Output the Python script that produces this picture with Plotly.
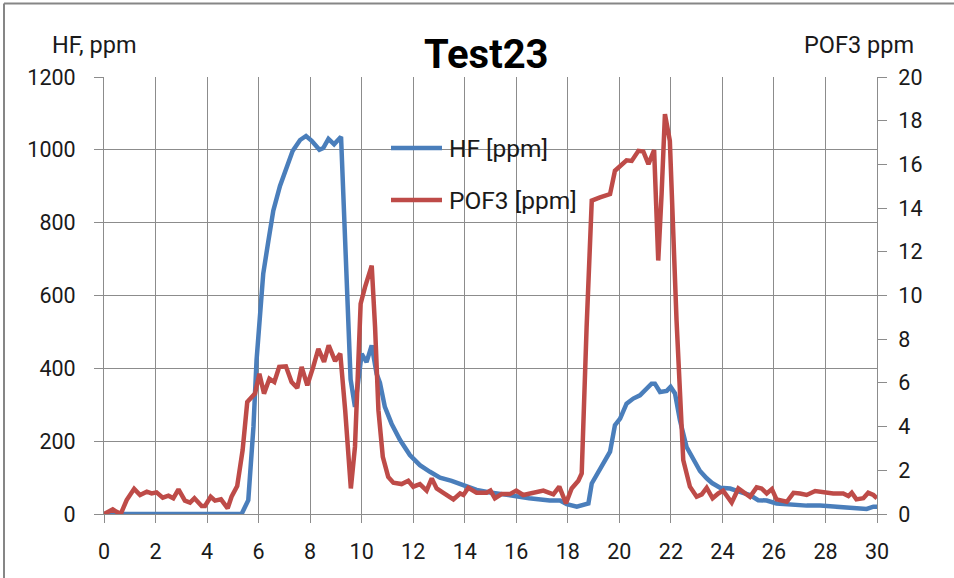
import plotly.graph_objects as go

# ---- data ----
hf_time = [0, 1, 2, 3, 4, 5, 5.34, 5.6, 5.8, 5.92, 6.05, 6.18, 6.38, 6.57, 6.83, 7.09, 7.32,
           7.61, 7.84, 8.06, 8.36, 8.51, 8.71, 8.93, 9.2, 9.57, 9.74, 10.0, 10.19, 10.39,
           10.58, 10.71, 10.9, 11.16, 11.49, 11.87, 12.26, 12.65, 13.04, 13.49, 13.95,
           14.46, 14.98, 15.5, 16.0, 16.5, 17.0, 17.3, 17.7, 17.96, 18.35, 18.8, 18.93,
           19.25, 19.64, 19.83, 20.03, 20.28, 20.54, 20.8, 21.0, 21.25, 21.38, 21.58,
           21.84, 21.99, 22.16, 22.35, 22.61, 22.87, 23.13, 23.39, 23.6, 23.91, 24.3,
           24.68, 25.07, 25.39, 25.72, 26.1, 26.5, 26.9, 27.27, 27.79, 28.3, 28.82,
           29.2, 29.6, 29.86, 30.0]
hf_ppm = [0, 0, 0, 0, 0, 0, 0, 38, 239, 422, 550, 660, 750, 833, 901, 952, 997,
          1027, 1038, 1025, 1000, 1005, 1030, 1015, 1036, 370, 294, 440, 417, 463,
          385, 360, 294, 248, 203, 162, 134, 116, 100, 91, 79,
          66, 59, 55, 49, 43, 38, 37, 37, 27, 20, 29, 84,
          121, 171, 244, 262, 303, 317, 326, 340, 358, 358, 335,
          338, 349, 331, 258, 184, 148, 118, 98, 85, 72, 70,
          61, 52, 38, 37, 29, 27, 24, 23, 23, 20, 16,
          16, 14, 20, 20]

pof3_time = [0, 0.34, 0.49, 0.65, 0.88, 1.17, 1.4, 1.66, 1.85, 2.04, 2.28, 2.5, 2.69, 2.89,
             3.14, 3.34, 3.51, 3.79, 3.92, 4.14, 4.31, 4.54, 4.8, 4.95, 5.17, 5.38, 5.56,
             5.86, 6.03, 6.21, 6.42, 6.61, 6.8, 7.06, 7.28, 7.5, 7.67, 7.89, 8.12, 8.32,
             8.54, 8.72, 8.97, 9.17, 9.36, 9.58, 9.74, 9.96, 10.13, 10.39, 10.52, 10.65,
             10.82, 11.03, 11.23, 11.55, 11.81, 12.0, 12.26, 12.52, 12.72, 12.91, 13.17,
             13.56, 13.82, 13.95, 14.14, 14.46, 14.85, 15.0, 15.17, 15.43, 15.75, 16.0,
             16.27, 16.6, 17.05, 17.44, 17.67, 17.93, 18.15, 18.41, 18.54, 18.73, 18.93,
             19.25, 19.64, 19.83, 20.0, 20.28, 20.48, 20.74, 20.93, 21.13, 21.35, 21.51,
             21.64, 21.77, 21.96, 22.22, 22.48, 22.74, 23.0, 23.2, 23.39, 23.62, 23.84,
             24.03, 24.36, 24.62, 25.07, 25.33, 25.52, 25.72, 25.92, 26.1, 26.5, 26.76,
             27.01, 27.27, 27.6, 27.92, 28.3, 28.69, 28.89, 29.02, 29.2, 29.47, 29.66,
             29.86, 30.0]
pof3_ppm = [0, 0.21, 0.1, 0.0, 0.64, 1.15, 0.87, 1.02, 0.94, 0.99, 0.75, 0.84, 0.72, 1.13,
            0.61, 0.52, 0.72, 0.37, 0.37, 0.79, 0.61, 0.67, 0.26, 0.79, 1.28, 2.92, 5.13,
            5.51, 6.42, 5.51, 6.19, 6.04, 6.73, 6.76, 6.04, 5.77, 6.73, 5.89, 6.73, 7.56,
            6.96, 7.72, 7.0, 7.34, 4.75, 1.17, 3.07, 9.62, 10.38, 11.37, 8.55, 4.75,
            2.62, 1.7, 1.43, 1.37, 1.52, 1.25, 1.37, 1.07, 1.63, 1.17, 0.97,
            0.67, 0.94, 0.87, 1.2, 0.97, 0.97, 1.07, 0.72, 0.91, 0.91, 1.07,
            0.87, 0.94, 1.07, 0.9, 1.25, 0.49, 1.17, 1.52, 1.86, 8.55, 14.34,
            14.49, 14.64, 15.71, 15.89, 16.19, 16.16, 16.62, 16.59, 16.01, 16.65, 11.6,
            14.64, 18.3, 17.08, 8.86, 2.47, 1.25, 0.79, 0.9, 1.2, 0.72, 0.94,
            1.07, 0.52, 1.17, 0.79, 1.22, 1.17, 0.94, 1.14, 0.67, 0.56, 0.97,
            0.94, 0.87, 1.05, 0.99, 0.94, 0.94, 0.82, 0.97, 0.67, 0.72, 0.97,
            0.87, 0.72]

series_names = ["HF [ppm]", "POF3 [ppm]"]
series_colors = ["#4A7EBB", "#BE4B48"]
title_text = "Test23"
left_label = "HF, ppm"
right_label = "POF3 ppm"
x_ticks = list(range(0, 31, 2))
left_ticks = list(range(0, 1201, 200))
right_ticks = list(range(0, 21, 2))

FONT = "Roboto"
GRID = "#8C8C8C"
TXT = "#1A1A1A"

fig = go.Figure()
fig.add_trace(go.Scatter(x=hf_time, y=hf_ppm, mode="lines", name=series_names[0],
                         line=dict(color=series_colors[0], width=4.5), yaxis="y"))
fig.add_trace(go.Scatter(x=pof3_time, y=pof3_ppm, mode="lines", name=series_names[1],
                         line=dict(color=series_colors[1], width=4.5), yaxis="y2"))

tickfont = dict(family=FONT, size=21.5, color=TXT)

fig.update_layout(
    width=954, height=578,
    margin=dict(l=104, r=77, t=77, b=64),
    paper_bgcolor="white", plot_bgcolor="white",
    showlegend=False,
    xaxis=dict(range=[0, 30], tickvals=x_ticks, showgrid=True, gridcolor=GRID, gridwidth=1,
               showline=True, linecolor=GRID, linewidth=1, ticks="outside", ticklen=8,
               tickcolor=GRID, tickfont=tickfont, ticklabelstandoff=10, zeroline=False,
               fixedrange=True),
    yaxis=dict(range=[0, 1200], tickvals=left_ticks, showgrid=True, gridcolor=GRID, gridwidth=1,
               showline=True, linecolor=GRID, linewidth=1, ticks="outside", ticklen=9,
               tickcolor=GRID, tickfont=tickfont, ticklabelstandoff=14, zeroline=False),
    yaxis2=dict(range=[0, 20], tickvals=right_ticks, overlaying="y", side="right",
                showgrid=False, showline=True, linecolor=GRID, linewidth=1, ticks="outside",
                ticklen=9, tickcolor=GRID, tickfont=tickfont, ticklabelstandoff=7,
                zeroline=False),
)

def px_x(p):
    return (p - 104) / 773.0

def px_y(p):
    return (514 - p) / 437.0

annotations = [
    dict(text=f"<b>{title_text}</b>", x=px_x(486), y=px_y(55), xref="paper", yref="paper",
         showarrow=False, xanchor="center", yanchor="middle",
         font=dict(family=FONT, size=40, color="#000000")),
    dict(text=left_label, x=px_x(94), y=px_y(45), xref="paper", yref="paper",
         showarrow=False, xanchor="center", yanchor="middle",
         font=dict(family=FONT, size=23.5, color=TXT)),
    dict(text=right_label, x=px_x(859), y=px_y(45), xref="paper", yref="paper",
         showarrow=False, xanchor="center", yanchor="middle",
         font=dict(family=FONT, size=23.5, color=TXT)),
]
shapes = [
    # chart-area frame (top and left edges visible)
    dict(type="line", xref="paper", yref="paper", x0=px_x(4), x1=px_x(960),
         y0=px_y(3.5), y1=px_y(3.5), line=dict(color="#868686", width=2)),
    dict(type="line", xref="paper", yref="paper", x0=px_x(4), x1=px_x(4),
         y0=px_y(3.5), y1=px_y(590), line=dict(color="#868686", width=2)),
]
# legend drawn inside the plot, Excel style
for i, (nm, col) in enumerate(zip(series_names, series_colors)):
    yy = px_y(148 + i * 52)
    shapes.append(dict(type="line", xref="paper", yref="paper", x0=px_x(391), x1=px_x(442),
                       y0=yy, y1=yy, line=dict(color=col, width=4.5)))
    annotations.append(dict(text=nm, x=px_x(447), y=yy, xref="paper", yref="paper",
                            showarrow=False, xanchor="left", yanchor="middle",
                            font=dict(family=FONT, size=24.5, color=TXT)))

fig.update_layout(annotations=annotations, shapes=shapes)
fig.write_html("out.html", config={"displayModeBar": False},
               post_script="document.body.style.margin='0px';")
